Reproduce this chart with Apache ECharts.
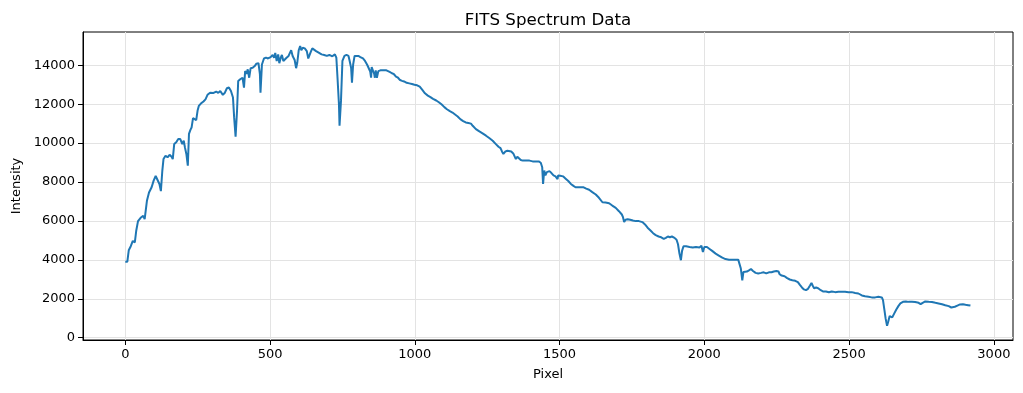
<!DOCTYPE html>
<html><head><meta charset="utf-8">
<script src="https://cdn.jsdelivr.net/npm/echarts@6/dist/echarts.min.js"></script>
<style>html,body{margin:0;padding:0;background:#fff}#c{width:1023px;height:393px}</style>
</head><body><div id="c"></div>
<script>
const pixel = [0,7,12,19,26,33,38,44,53,62,67,75,82,91,98,105,111,118,123,128,132,139,146,153,160,164,169,176,183,190,197,202,206,211,216,220,225,229,234,238,245,250,254,261,270,277,284,293,305,314,321,328,337,344,351,358,365,372,376,381,386,390,397,
401,405,410,414,419,423,428,433,440,447,453,460,465,467,472,479,486,493,502,509,514,518,523,528,532,537,541,546,550,557,564,569,573,578,585,590,594,599,604,608,613,620,627,632,636,641,646,650,659,668,678,687,696,705,715,724,729,733,738,740,745,750,757,764,771,775,780,783,787,792,798,805,
812,821,828,835,839,846,849,851,855,860,862,865,869,874,881,890,902,913,921,928,935,942,949,956,963,972,981,990,999,1008,1017,1026,1035,1045,1054,1063,1074,1083,1093,1102,1111,1121,1130,1139,1148,1157,1167,1176,1185,1194,
1200,1211,1223,1234,1246,1257,1269,1280,1289,1296,1301,1306,1308,1313,1320,1326,1333,1340,1345,1349,1354,1359,1366,1373,1384,1396,1407,1419,1428,1435,1440,1443,1447,1451,1456,1461,1465,1472,1479,1486,1493,1495,1502,1512,1521,1530,1539,1548,1555,1564,1574,1583,1592,1602,
1613,1625,1636,1648,1659,1671,1682,1694,1705,1715,1719,1723,1728,1735,1744,1753,1763,1774,1786,1795,1804,1814,1823,1832,1842,1851,1860,1867,1874,1881,1888,1897,1904,1909,1914,1919,1923,1928,1937,1949,1960,1971,1983,1990,1995,2000,2009,2018,2027,2039,2050,2062,2073,2085,2096,2108,2117,2121,2126,2131,2135,2140,2147,2154,2161,2168,2177,2186,2196,2205,2214,2223,2232,2240,2249,2256,2260,2267,2277,2286,2295,2304,2314,2323,2330,2337,2344,2351,2358,2365,2370,2374,2379,2386,2393,2402,2411,2420,2430,2440,2452,2463,2475,2486,2498,2509,2521,2532,2544,2555,2567,2578,2590,2601,2613,2617,2622,2626,2631,2635,2640,2644,2649,2656,2663,2670,2677,2686,2696,2705,2717,2728,2740,2747,2754,2763,2775,2786,2798,2809,2821,2832,2844,2853,2858,2865,2874,2883,2893,2902,2911,2919];
const intensity = [3900,3900,4490,4700,4970,4900,5510,5990,6160,6260,6090,7050,7460,7730,8070,8310,8240,7900,7530,8590,9180,9350,9270,9400,9300,9180,9950,10040,10210,10210,9950,10120,9780,9440,8840,10470,10680,10800,11280,11310,11180,11690,11910,12030,12140,12250,12480,12590,12580,12650,12580,12680,12480,12590,12820,12860,12680,12340,11320,10330,11660,13190,13280,
13330,13360,12850,13700,13570,13790,13360,13850,13870,13960,14080,14110,13540,12590,14040,14350,14390,14350,14420,14530,14390,14630,14220,14560,14110,14390,14530,14220,14300,14390,14480,14650,14770,14480,14270,13850,14130,14770,14990,14770,14900,14870,14730,14350,14270,14700,14870,14820,14730,14650,14560,14530,14480,14530,14460,14560,14390,13360,12000,10890,12170,14220,14480,14530,14480,14220,13870,13110,14040,14480,14420,14480,
14420,14350,14220,14040,13910,13670,13360,13910,13850,13540,13360,13740,13360,13700,13740,13740,13740,13660,13590,13540,13420,13360,13240,13200,13170,13100,13070,13040,13000,12970,12900,12730,12560,12440,12360,12270,12190,12100,11980,11850,11740,11640,11570,11470,11370,11230,11130,11060,11030,11000,
10890,10720,10600,10500,10380,10260,10120,9950,9810,9740,9570,9440,9520,9570,9610,9520,9570,9470,9400,9180,9300,9270,9130,9100,9100,9100,9060,9060,9060,8990,8760,7900,8590,8340,8510,8420,8560,8460,8340,8290,8150,8340,8320,8290,8170,8050,7900,7800,7730,7730,7730,7730,7660,7600,
7480,7360,7190,6960,6950,6910,6790,6670,6500,6330,6190,5940,6060,6090,6060,6020,5990,5990,5940,5820,5650,5510,5370,5270,5200,5160,5080,5130,5200,5160,5200,5130,5030,4800,4320,3980,4460,4700,4700,4660,4630,4660,4630,4720,4400,4660,4660,4560,4460,4320,4220,4110,4040,4010,4010,4010,4010,3980,3550,2950,3380,3330,3400,3460,3530,3430,3330,3300,3330,3360,3300,3360,3360,3400,3430,3400,3260,3190,3160,3060,2990,2950,2920,2850,2710,2580,2480,2440,2510,2680,2810,2680,2540,2580,2540,2440,2370,2370,2330,2370,2340,2360,2360,2360,2340,2340,2300,2270,2170,2130,2100,2070,2070,2100,2070,1930,1420,990,610,820,1110,1210,1040,1250,1450,1620,1760,1840,1860,1840,1840,1830,1790,1720,1790,1860,1840,1830,1790,1760,1720,1670,1620,1550,1520,1590,1650,1710,1720,1690,1670,1650];
const xTicks = [0,500,1000,1500,2000,2500,3000];
const yTicks = [0,2000,4000,6000,8000,10000,12000,14000];

const data = pixel.map((p,i)=>[p,intensity[i]]);
const font = 'DejaVu Sans';
const plain = v => String(v);
const chart = echarts.init(document.getElementById('c'), null, {renderer:'canvas'});
chart.setOption({
  animation:false,
  title:{text:'FITS Spectrum Data', left:543, top:7, textAlign:'center',
    textStyle:{fontFamily:font, fontSize:16.7, fontWeight:'normal', color:'#000'}},
  grid:{left:83, right:10, top:32, bottom:53, show:true, borderColor:'#000', borderWidth:1, backgroundColor:'transparent'},
  xAxis:{type:'value', min:-146, max:3066, name:'Pixel', nameLocation:'middle', nameGap:28,
    nameTextStyle:{fontFamily:font, fontSize:13, color:'#000'},
    axisLine:{show:true, onZero:false, lineStyle:{color:'#000', width:1}},
    axisTick:{show:true, length:5, lineStyle:{color:'#000'}, customValues:xTicks},
    axisLabel:{fontFamily:font, fontSize:13, color:'#000', margin:8, customValues:xTicks, formatter:plain},
    splitLine:{show:true, lineStyle:{color:'#e3e3e3', width:1}}},
  yAxis:{type:'value', min:-120, max:15710, name:'Intensity', nameLocation:'middle', nameGap:55, nameRotate:90,
    nameTextStyle:{fontFamily:font, fontSize:13, color:'#000'},
    axisLine:{show:true, onZero:false, lineStyle:{color:'#000', width:1}},
    axisTick:{show:true, length:5, lineStyle:{color:'#000'}, customValues:yTicks},
    axisLabel:{fontFamily:font, fontSize:13, color:'#000', margin:8, customValues:yTicks, formatter:plain},
    splitLine:{show:true, lineStyle:{color:'#e3e3e3', width:1}}},
  series:[{type:'line', data:data, showSymbol:false, smooth:false,
    lineStyle:{color:'#1f77b4', width:2}, itemStyle:{color:'#1f77b4'}}]
});
</script></body></html>
